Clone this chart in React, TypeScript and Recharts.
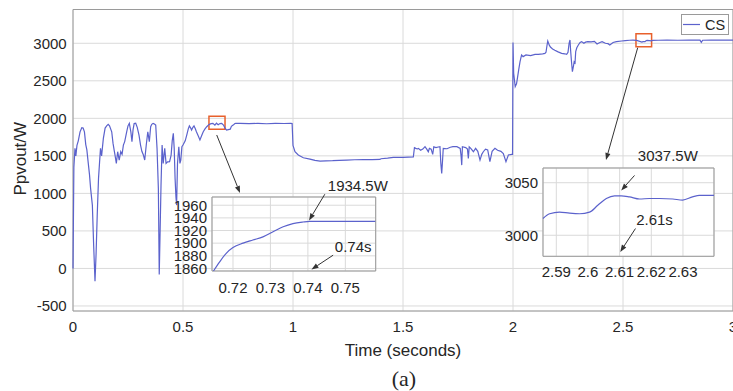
import { LineChart, Line, XAxis, YAxis, CartesianGrid, ReferenceArea, ReferenceLine } from 'recharts'

// main trace (time in s, power in W)
const mainTime = [
  0, 0.004, 0.009, 0.013, 0.018, 0.024, 0.032, 0.04, 0.046, 0.052, 0.058, 0.063, 0.068, 0.075, 0.08, 0.088,
  0.094, 0.1, 0.105, 0.11, 0.116, 0.12, 0.125, 0.13, 0.138, 0.146, 0.153, 0.16, 0.166, 0.176, 0.182, 0.188,
  0.191, 0.197, 0.203, 0.21, 0.217, 0.223, 0.229, 0.235, 0.244, 0.25, 0.256, 0.263, 0.268, 0.273, 0.278,
  0.285, 0.292, 0.3, 0.307, 0.313, 0.32, 0.326, 0.333, 0.34, 0.347, 0.353, 0.358, 0.364, 0.37, 0.376, 0.382,
  0.388, 0.392, 0.396, 0.4, 0.405, 0.41, 0.417, 0.423, 0.43, 0.439, 0.446, 0.451, 0.456, 0.46, 0.464, 0.468,
  0.471, 0.475, 0.481, 0.486, 0.49, 0.495, 0.5, 0.51, 0.517, 0.524, 0.529, 0.535, 0.539, 0.545, 0.55, 0.556,
  0.561, 0.57, 0.577, 0.585, 0.592, 0.6, 0.608, 0.615, 0.62, 0.628, 0.636, 0.645, 0.652, 0.66, 0.668, 0.676,
  0.684, 0.691, 0.698, 0.706, 0.7148, 0.72, 0.728, 0.736, 0.74, 0.76, 0.8, 0.84, 0.88, 0.92, 0.96, 0.99,
  0.996, 1.0, 1.009, 1.024, 1.047, 1.077, 1.1, 1.123, 1.15, 1.18, 1.21, 1.244, 1.28, 1.32, 1.36, 1.395, 1.4,
  1.43, 1.456, 1.5, 1.547, 1.552, 1.558, 1.565, 1.57, 1.58, 1.59, 1.6, 1.608, 1.615, 1.62, 1.628, 1.635, 1.64,
  1.65, 1.66, 1.668, 1.672, 1.676, 1.68, 1.683, 1.7, 1.715, 1.727, 1.745, 1.76, 1.764, 1.767, 1.77, 1.785,
  1.793, 1.797, 1.801, 1.808, 1.82, 1.83, 1.84, 1.85, 1.858, 1.865, 1.875, 1.885, 1.895, 1.905, 1.918, 1.93,
  1.945, 1.956, 1.968, 1.979, 1.994, 1.998, 2.0, 2.003, 2.01, 2.016, 2.02, 2.026, 2.032, 2.039, 2.046, 2.059,
  2.08, 2.1, 2.115, 2.135, 2.145, 2.15, 2.155, 2.158, 2.165, 2.17, 2.18, 2.19, 2.205, 2.221, 2.235, 2.244,
  2.25, 2.255, 2.259, 2.262, 2.266, 2.27, 2.275, 2.278, 2.282, 2.285, 2.29, 2.297, 2.305, 2.312, 2.322, 2.33,
  2.34, 2.355, 2.37, 2.382, 2.395, 2.405, 2.42, 2.432, 2.44, 2.455, 2.47, 2.494, 2.51, 2.53, 2.545, 2.562,
  2.5858, 2.591, 2.6, 2.6058, 2.61, 2.62, 2.628, 2.635, 2.66, 2.7, 2.75, 2.8, 2.85, 2.856, 2.862, 2.9, 2.95, 3.0,
]
const mainPower = [
  0, 1350, 1600, 1500, 1640, 1700, 1820, 1875, 1870, 1820, 1650, 1580, 1440, 1250, 1067, 844,
  300, -170, 200, 700, 1200, 1380, 1600, 1500, 1733, 1870, 1900, 1920, 1900, 1821, 1666, 1560,
  1511, 1400, 1555, 1444, 1555, 1520, 1644, 1690, 1821, 1900, 1933, 1820, 1690, 1850, 1930,
  1935, 1880, 1777, 1644, 1560, 1511, 1444, 1644, 1821, 1690, 1888, 1920, 1933, 1925, 1910, 1600,
  1067, -80, 500, 1100, 1644, 1400, 1600, 1400, 1420, 1422, 1511, 1700, 1800, 1600, 1200, 950,
  844, 1400, 1622, 1400, 1444, 1622, 1644, 1700, 1777, 1860, 1900, 1870, 1844, 1880, 1900, 1860,
  1822, 1760, 1711, 1770, 1822, 1860, 1888, 1910, 1920, 1930, 1933, 1910, 1935, 1915, 1930, 1933,
  1910, 1870, 1844, 1850, 1856, 1893, 1910, 1931, 1934.5, 1934, 1930, 1932, 1928, 1932, 1931, 1932,
  1930, 1640, 1555, 1511, 1475, 1457, 1440, 1430, 1434, 1436, 1440, 1444, 1448, 1450, 1450, 1452, 1462,
  1470, 1480, 1480, 1486, 1610, 1600, 1592, 1600, 1575, 1590, 1622, 1590, 1555, 1600, 1590, 1520, 1620,
  1610, 1618, 1622, 1400, 1266, 1450, 1600, 1595, 1615, 1622, 1622, 1600, 1500, 1377, 1622, 1610,
  1590, 1466, 1620, 1600, 1555, 1600, 1560, 1444, 1520, 1555, 1590, 1580, 1422, 1560, 1600, 1575,
  1560, 1530, 1422, 1511, 1520, 1520, 3010, 2600, 2422, 2460, 2533, 2650, 2755, 2844, 2822, 2844,
  2835, 2853, 2853, 2860, 2866, 2880, 2980, 3030, 2975, 2950, 2925, 2906, 2885, 2866, 2860, 2853,
  2880, 3000, 3044, 2900, 2750, 2621, 2700, 2755, 2740, 2888, 2940, 2977, 3010, 3022, 3000, 3015,
  3022, 3020, 3025, 2990, 3010, 3022, 3000, 2995, 2977, 3010, 3022, 3030, 3036, 3040, 3042, 3038,
  3016, 3022, 3022, 3035, 3037.5, 3035, 3033, 3038, 3040, 3042, 3040, 3043, 3042, 3012, 3040, 3043, 3041, 3043,
]
const mainXTicks = [0, 0.5, 1, 1.5, 2, 2.5, 3]
const mainYTicks = [-500, 0, 500, 1000, 1500, 2000, 2500, 3000]

// zoom near 0.74 s
const zoom1Time = [0.7148, 0.7164, 0.7182, 0.72, 0.7227, 0.7253, 0.728, 0.7307, 0.7334, 0.736, 0.7387, 0.7405, 0.745, 0.75, 0.755, 0.758]
const zoom1Power = [1856, 1870, 1884, 1893, 1900, 1905, 1910, 1918, 1926, 1931, 1933.5, 1934.5, 1934.5, 1934.5, 1934.5, 1934.5]
const zoom1XTicks = [0.72, 0.73, 0.74, 0.75]
const zoom1YTicks = [1860, 1880, 1900, 1920, 1940, 1960]

// zoom near 2.61 s
const zoom2Time = [2.5858, 2.5879, 2.591, 2.5942, 2.5974, 2.6005, 2.6031, 2.6058, 2.6084, 2.6105, 2.6131, 2.6163, 2.6194, 2.6226, 2.6268, 2.6299, 2.633, 2.6352, 2.6398]
const zoom2Power = [3016, 3020.5, 3022, 3021, 3020.5, 3022, 3028.5, 3035, 3037.5, 3037.5, 3036.5, 3034.5, 3035, 3035, 3034.5, 3033.5, 3036.5, 3038, 3038]
const zoom2XTicks = [2.59, 2.6, 2.61, 2.62, 2.63]
const zoom2YTicks = [3000, 3050]

const LINE = '#5b62cc'
const GRID = '#dadada'
const BOX = '#9a9a9a'
const INK = '#262626'
const RED = '#e8602c'

const mainData = mainTime.map((t, i) => ({ t, p: mainPower[i] }))
const zoom1Data = zoom1Time.map((t, i) => ({ t, p: zoom1Power[i] }))
const zoom2Data = zoom2Time.map((t, i) => ({ t, p: zoom2Power[i] }))

function Arrow(props: any) {
  const { x1, y1, x2, y2, text, dx = 0, dy = 0 } = props
  const a = Math.atan2(y2 - y1, x2 - x1)
  const len = 7
  const w = 2.6
  const bx = x2 - len * Math.cos(a)
  const by = y2 - len * Math.sin(a)
  const pts = `${x2},${y2} ${bx - w * Math.sin(a)},${by + w * Math.cos(a)} ${bx + w * Math.sin(a)},${by - w * Math.cos(a)}`
  return (
    <g>
      <line x1={x1} y1={y1} x2={bx} y2={by} stroke="#333" strokeWidth={1} />
      <polygon points={pts} fill="#333" />
      {text && (
        <text x={x1 + dx} y={y1 + dy} fontSize={15} fill={INK}>
          {text}
        </text>
      )}
    </g>
  )
}

const tickStyle = { fill: INK, fontSize: 15 }

export default function App() {
  return (
    <div
      style={{
        position: 'absolute',
        left: 0,
        top: 0,
        width: 733,
        height: 391,
        background: '#fff',
        fontFamily: '"Liberation Sans", Arial, sans-serif',
        overflow: 'hidden',
      }}
    >
      <LineChart width={733} height={391} data={mainData} margin={{ top: 9.5, right: 0, left: 0, bottom: 0 }}>
        <CartesianGrid stroke={GRID} strokeWidth={1} />
        <XAxis
          dataKey="t"
          type="number"
          domain={[0, 3]}
          ticks={mainXTicks}
          interval={0}
          height={80}
          axisLine={false}
          tickLine={false}
          tickSize={0}
          tickMargin={10.4}
          tick={tickStyle}
          label={{
            content: ({ viewBox }: any) => (
              <text x={viewBox.x + viewBox.width / 2} y={356} textAnchor="middle" fontSize={17} fill={INK}>
                Time (seconds)
              </text>
            ),
          }}
        />
        <YAxis
          type="number"
          domain={[-567, 3450]}
          ticks={mainYTicks}
          interval={0}
          width={73}
          axisLine={false}
          tickLine={false}
          tickSize={0}
          tickMargin={6.3}
          tick={tickStyle}
          label={{
            content: ({ viewBox }: any) => {
              const cy = viewBox.y + viewBox.height / 2 - 1.5
              return (
                <text x={25.5} y={cy} transform={`rotate(-90 25.5 ${cy})`} textAnchor="middle" fontSize={17} fill={INK}>
                  Ppvout/W
                </text>
              )
            },
          }}
        />
        <ReferenceArea x1={0} x2={3} y1={-567} y2={3450} stroke={BOX} strokeWidth={1} fill="none" fillOpacity={0} />
        <Line dataKey="p" type="linear" stroke={LINE} strokeWidth={1.2} dot={false} isAnimationActive={false} />
        <ReferenceArea x1={0.618} x2={0.691} y1={1854} y2={2027} stroke={RED} strokeWidth={1.5} fill="none" fillOpacity={0} />
        <ReferenceArea x1={2.559} x2={2.63} y1={2954} y2={3127} stroke={RED} strokeWidth={1.5} fill="none" fillOpacity={0} />
        <ReferenceLine segment={[{ x: 0.6532, y: 1778 }, { x: 0.7591, y: 1006 }]} ifOverflow="visible" shape={(p: any) => <Arrow {...p} />} />
        <ReferenceLine segment={[{ x: 2.5668, y: 2941 }, { x: 2.4227, y: 1445 }]} ifOverflow="visible" shape={(p: any) => <Arrow {...p} />} />
      </LineChart>

      <div style={{ position: 'absolute', left: 152.3, top: 174.7 }}>
        <LineChart width={243.7} height={126} data={zoom1Data} margin={{ top: 22, right: 20, left: 0, bottom: 0 }}>
          <CartesianGrid stroke={GRID} fill="#fff" fillOpacity={1} />
          <XAxis
            dataKey="t"
            type="number"
            domain={[0.7144, 0.7581]}
            ticks={zoom1XTicks}
            interval={0}
            height={30}
            axisLine={false}
            tickLine={false}
            tickSize={0}
            tickMargin={11.3}
            tick={tickStyle}
          />
          <YAxis
            type="number"
            domain={[1856, 1973]}
            ticks={zoom1YTicks}
            interval={0}
            width={60}
            axisLine={false}
            tickLine={false}
            tickSize={0}
            tickMargin={5}
            tick={tickStyle}
          />
          <ReferenceArea x1={0.7144} x2={0.7581} y1={1856} y2={1973} stroke={BOX} fill="none" fillOpacity={0} />
          <Line dataKey="p" type="monotone" stroke={LINE} strokeWidth={1.2} dot={false} isAnimationActive={false} />
          <ReferenceLine
            segment={[{ x: 0.74452, y: 1977.4 }, { x: 0.7403, y: 1936 }]}
            ifOverflow="visible"
            shape={(p: any) => <Arrow {...p} text="1934.5W" dx={3} dy={-3.6} />}
          />
          <ReferenceLine
            segment={[{ x: 0.74674, y: 1881 }, { x: 0.74096, y: 1858.4 }]}
            ifOverflow="visible"
            shape={(p: any) => <Arrow {...p} text="0.74s" dx={1.7} dy={-3.6} />}
          />
        </LineChart>
      </div>

      <div style={{ position: 'absolute', left: 483.3, top: 145.7 }}>
        <LineChart width={246} height={140.3} data={zoom2Data} margin={{ top: 22, right: 15, left: 0, bottom: 0 }}>
          <CartesianGrid stroke={GRID} fill="#fff" fillOpacity={1} />
          <XAxis
            dataKey="t"
            type="number"
            domain={[2.5858, 2.6398]}
            ticks={zoom2XTicks}
            interval={0}
            height={30}
            axisLine={false}
            tickLine={false}
            tickSize={0}
            tickMargin={10.4}
            tick={tickStyle}
          />
          <YAxis
            type="number"
            domain={[2980, 3064]}
            ticks={zoom2YTicks}
            interval={0}
            width={60}
            axisLine={false}
            tickLine={false}
            tickSize={0}
            tickMargin={5}
            tick={tickStyle}
          />
          <ReferenceArea x1={2.5858} x2={2.6398} y1={2980} y2={3064} stroke={BOX} fill="none" fillOpacity={0} />
          <Line dataKey="p" type="monotone" stroke={LINE} strokeWidth={1.2} dot={false} isAnimationActive={false} />
          <ReferenceLine
            segment={[{ x: 2.6147, y: 3056.9 }, { x: 2.6105, y: 3042.7 }]}
            ifOverflow="visible"
            shape={(p: any) => <Arrow {...p} text="3037.5W" dx={3.3} dy={-14.6} />}
          />
          <ReferenceLine
            segment={[{ x: 2.615, y: 3006.4 }, { x: 2.6102, y: 2984.2 }]}
            ifOverflow="visible"
            shape={(p: any) => <Arrow {...p} text="2.61s" dx={0.7} dy={-3.9} />}
          />
        </LineChart>
      </div>

      <svg style={{ position: 'absolute', left: 681, top: 14 }} width={48} height={21}>
        <rect x={0.5} y={0.5} width={47} height={20} fill="#fff" stroke={BOX} />
        <line x1={2} y1={10.5} x2={19} y2={10.5} stroke={LINE} strokeWidth={1.2} />
        <text x={24} y={15.7} fontSize={14.5} fill={INK}>
          CS
        </text>
      </svg>

      <div
        style={{
          position: 'absolute',
          left: 354,
          width: 100,
          top: 366,
          textAlign: 'center',
          fontFamily: '"Liberation Serif", "Times New Roman", serif',
          fontSize: 22,
          lineHeight: '26px',
          color: INK,
        }}
      >
        (a)
      </div>
    </div>
  )
}
